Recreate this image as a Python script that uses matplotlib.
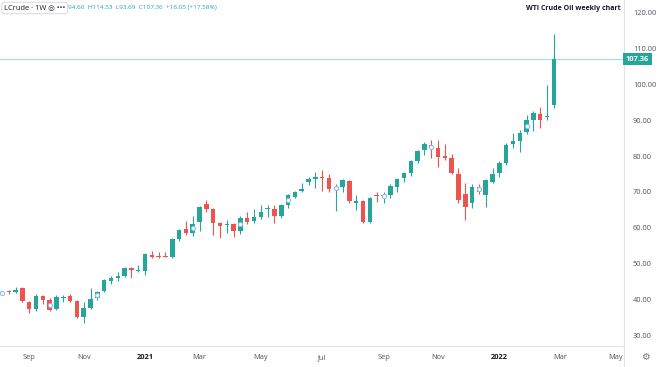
import matplotlib
matplotlib.use("Agg")
import matplotlib.pyplot as plt
import matplotlib.patches as patches
import matplotlib.transforms as mtransforms
import numpy as np
import pandas as pd

plt.rcParams['font.family'] = ['Open Sans', 'DejaVu Sans']

# weekly bars, WTI crude
week_start = pd.date_range('2020-08-10', periods=82, freq='W-MON')
opens = [42.0, 42.6, 42.4, 43.4, 39.6, 37.6, 41.3, 40.1, 37.5, 40.8,
         41.2, 39.8, 35.4, 37.8, 40.6, 42.6, 45.4, 46.2, 46.9, 49.1,
         48.3, 48.3, 52.7, 52.4, 52.4, 52.1, 57.1, 59.9, 58.9, 62.0,
         66.8, 65.5, 61.5, 61.0, 61.3, 59.4, 63.1, 62.2, 63.4, 65.6,
         65.5, 63.7, 66.6, 69.0, 70.6, 73.2, 73.8, 74.6, 74.1, 71.4,
         71.8, 73.4, 67.1, 67.8, 61.8, 69.3, 69.1, 69.4, 71.8, 74.1,
         75.7, 78.9, 82.0, 83.4, 82.5, 80.4, 79.9, 75.2, 69.6, 67.1,
         71.8, 69.4, 73.2, 75.5, 78.5, 83.7, 84.6, 87.0, 90.4, 92.0,
         91.3, 94.60]
highs = [42.6, 42.9, 43.8, 43.7, 39.8, 41.7, 41.5, 40.8, 41.5, 41.6,
         41.9, 40.0, 39.6, 43.4, 42.6, 46.0, 46.8, 47.8, 49.3, 49.4,
         49.9, 53.3, 53.8, 53.6, 53.6, 57.5, 59.9, 62.2, 63.7, 66.4,
         68.0, 65.8, 62.0, 62.5, 61.5, 63.5, 64.6, 65.5, 66.6, 66.6,
         66.6, 67.0, 69.8, 70.6, 72.7, 74.6, 75.8, 76.4, 75.4, 72.5,
         74.0, 73.6, 69.5, 68.0, 68.8, 70.4, 70.3, 72.4, 74.3, 76.0,
         79.3, 82.0, 84.3, 84.8, 84.8, 83.6, 80.8, 76.9, 72.7, 72.5,
         72.4, 74.0, 77.1, 78.9, 83.9, 86.8, 87.5, 91.8, 93.0, 94.1,
         100.2, 114.53]
lows = [41.6, 41.9, 42.2, 39.6, 36.4, 37.0, 39.0, 36.9, 37.2, 39.6,
        39.6, 35.0, 33.7, 37.5, 40.2, 42.3, 44.5, 45.3, 46.5, 46.3,
        47.8, 47.2, 51.8, 51.9, 52.0, 51.8, 56.5, 58.4, 58.0, 59.4,
        64.8, 58.3, 57.3, 58.8, 57.8, 58.5, 61.3, 61.5, 62.6, 63.4,
        61.5, 63.0, 65.9, 68.5, 70.2, 72.2, 71.3, 70.6, 70.2, 65.0,
        70.4, 67.1, 65.3, 61.7, 61.7, 67.6, 67.3, 68.5, 70.4, 73.2,
        74.8, 78.3, 80.6, 79.9, 77.3, 79.3, 75.2, 67.1, 62.5, 65.7,
        69.7, 66.2, 72.8, 74.5, 77.8, 82.5, 81.5, 86.5, 87.3, 88.1,
        90.4, 93.69]
closes = [42.2, 42.3, 43.0, 39.8, 37.6, 41.2, 40.1, 37.3, 40.9, 41.0,
          39.9, 35.4, 37.8, 40.3, 42.3, 45.7, 46.3, 46.8, 49.0, 48.5,
          48.6, 52.9, 52.1, 52.2, 52.2, 57.1, 59.6, 58.9, 61.4, 66.1,
          65.5, 61.5, 60.8, 61.2, 59.4, 63.1, 62.0, 63.4, 64.8, 65.8,
          63.6, 66.6, 69.4, 70.4, 71.0, 73.8, 74.6, 74.1, 71.0, 71.6,
          73.6, 67.8, 67.8, 61.8, 68.5, 69.1, 69.3, 72.0, 73.9, 75.7,
          78.9, 81.7, 83.6, 82.5, 80.1, 79.7, 75.5, 68.0, 66.2, 71.8,
          70.2, 73.6, 75.2, 78.3, 83.4, 84.6, 86.7, 90.4, 92.3, 90.4,
          91.6, 107.36]
# weeks carrying the small light-blue event markers
marker_weeks = [0, 7, 14, 28, 35, 42, 49, 56, 63, 70, 77]

price_ticks = [30, 40, 50, 60, 70, 80, 90, 100, 110, 120]
last_price = closes[-1]

up_col = '#26a69a'
down_col = '#ef5350'
grid_col = '#e0e3eb'
text_col = '#50535e'

fig = plt.figure(figsize=(6.6, 3.67), dpi=100)
ax = fig.add_axes([0, 21 / 367, 624 / 660, 346 / 367])

x = np.arange(len(opens))
o = np.array(opens)
c = np.array(closes)
h = np.array(highs)
l = np.array(lows)
colors = np.where(c >= o, up_col, down_col)

# wicks then bodies
ax.vlines(x, l, h, colors=colors, linewidth=0.8, zorder=2)
body_bottom = np.minimum(o, c)
body_h = np.maximum(np.abs(c - o), 0.25)
ax.bar(x, body_h, bottom=body_bottom, width=0.66, color=colors, linewidth=0, zorder=3)

# event markers
mw = np.array(marker_weeks)
ax.scatter(mw, (o[mw] + c[mw]) / 2, marker='o', s=9, facecolor='white',
           edgecolor='#8fbce6', linewidth=0.8, zorder=4)

# last price line
ax.axhline(last_price, color='#9fe0d8', linewidth=0.8, zorder=1)

ax.set_xlim(-0.29, 91.3)
ax.set_ylim(27.26, 123.91)

# price scale on the right, written as text so the top label is kept
ax.set_yticks([])
ytr = mtransforms.blended_transform_factory(ax.transAxes, ax.transData)
for p in price_ticks:
    ax.text(1 + 9 / 624, p, '%.2f' % p, transform=ytr, fontsize=5.3, color=text_col,
            ha='left', va='center', clip_on=False)

# time axis: first week of each second month
tick_pos, tick_lab, bold_flags = [], [], []
prev = None
for i, d in enumerate(pd.date_range(week_start[0], periods=92, freq='W-MON')):
    if d.month != prev and d.month in (1, 3, 5, 7, 9, 11) and i > 0:
        tick_pos.append(i)
        tick_lab.append(str(d.year) if d.month == 1 else d.strftime('%b'))
        bold_flags.append(d.month == 1)
    prev = d.month
ax.set_xticks(tick_pos)
ax.set_xticklabels(tick_lab)
ax.tick_params(axis='x', length=0, pad=6, labelsize=5.3, labelcolor=text_col)
for lab, b in zip(ax.get_xticklabels(), bold_flags):
    if b:
        lab.set_fontweight('bold')
        lab.set_color('#131722')

for s in ['top', 'left']:
    ax.spines[s].set_visible(False)
ax.spines['right'].set_color(grid_col)
ax.spines['bottom'].set_color(grid_col)
ax.spines['right'].set_linewidth(0.8)
ax.spines['bottom'].set_linewidth(0.8)

# cover the corner under the price scale (cuts the last month label like the original)
fig.patches.append(patches.Rectangle((624 / 660, 0), 36 / 660, 21 / 367,
                                     transform=fig.transFigure, facecolor='white',
                                     edgecolor='none', zorder=5))
fig.lines.append(plt.Line2D([624 / 660, 624 / 660], [0, 21 / 367], transform=fig.transFigure,
                            color=grid_col, linewidth=0.8, zorder=6))
fig.text(645 / 660, 10 / 367, '\u2699', fontsize=7, color='#787b86', ha='center', va='center',
         family=['DejaVu Sans'], zorder=7)

# price tag
ytag = ax.transData.transform((0, last_price))[1] / fig.bbox.height
fig.text(626 / 660, ytag, '%.2f' % last_price, fontsize=5.3, color='white', fontweight='bold',
         ha='left', va='center', zorder=8,
         bbox=dict(boxstyle='square,pad=0.35', fc=up_col, ec='none'))

# header
fig.text(4 / 660, 1 - 8 / 367, 'LCrude \u00b7 1W \u25ce \u2022\u2022\u2022', fontsize=5.4, color='#131722',
         ha='left', va='center',
         bbox=dict(boxstyle='round,pad=0.3,rounding_size=0.4', fc='white', ec='#d1d4dc', lw=0.6))
fig.text(68 / 660, 1 - 8 / 367, '94.60  H114.53  L93.69  C107.36  +16.05 (+17.58%)',
         fontsize=4.6, color=up_col, ha='left', va='center')
fig.text(621 / 660, 1 - 9 / 367, 'WTI Crude Oil weekly chart', fontsize=5.0, fontweight='bold',
         color='#131722', ha='right', va='center')

fig.savefig('out.png', dpi=100)
